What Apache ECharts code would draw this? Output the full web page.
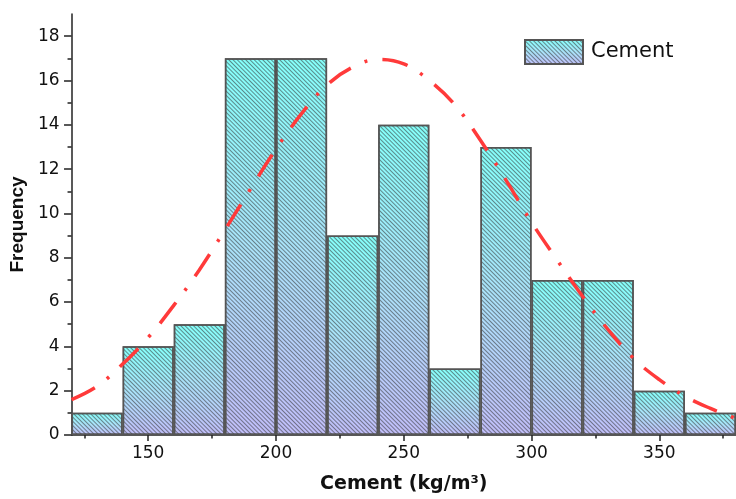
<!DOCTYPE html>
<html>
<head>
<meta charset="utf-8">
<script src="https://cdn.jsdelivr.net/npm/echarts@6/dist/echarts.min.js"></script>
<style>
  html, body { margin: 0; padding: 0; background: #fff; }
  #chart { width: 736px; height: 499px; }
</style>
</head>
<body>
<div id="chart"></div>
<script>
// Histogram bins (kg/m³): lower edge, upper edge and count
const binStart = [120, 140, 160, 180, 200, 220, 240, 260, 280, 300, 320, 340, 360];
const binEnd   = [140, 160, 180, 200, 220, 240, 260, 280, 300, 320, 340, 360, 380];
const counts   = [1, 4, 5, 17, 17, 9, 14, 3, 13, 7, 7, 2, 1];

// Fitted normal curve, sampled along the cement axis
const curveX = [120, 130, 140, 150, 160, 170, 180, 190, 200, 210, 220, 230, 240,
                250, 260, 270, 280, 290, 300, 310, 320, 330, 340, 350, 360, 370, 380];
const curveY = [1.6, 2.2, 3.2, 4.4, 5.85, 7.45, 9.25, 11.1, 12.9, 14.5, 15.8, 16.6, 16.95,
                16.75, 16.0, 14.9, 13.3, 11.5, 9.6, 7.9, 6.25, 4.75, 3.45, 2.5, 1.75, 1.2, 0.75];

// Axis ticks
const xMajor = [150, 200, 250, 300, 350];
const xMinor = [125, 175, 225, 275, 325, 375];
const yMajor = [0, 2, 4, 6, 8, 10, 12, 14, 16, 18];
const yMinor = [1, 3, 5, 7, 9, 11, 13, 15, 17];

const barData = binStart.map((s, i) => [(s + binEnd[i]) / 2, counts[i]]);
const curveData = curveX.map((x, i) => [x, curveY[i]]);

const chart = echarts.init(document.getElementById('chart'), null, { renderer: 'canvas' });

const labelFont = { fontFamily: 'DejaVu Sans', fontSize: 17, color: '#111' };
const axisLineStyle = { color: '#222', width: 1.5 };

const barFill = new echarts.graphic.LinearGradient(0, 0, 0, 1, [
  { offset: 0, color: '#84fffa' },
  { offset: 0.5, color: '#a9e2f8' },
  { offset: 1, color: '#c0bdf8' }
]);

chart.setOption({
  animation: false,
  backgroundColor: '#fff',
  grid: { left: 69, top: 14, right: -6, bottom: 62, containLabel: false },
  legend: {
    data: ['Cement'],
    left: 524,
    top: 39,
    padding: 0,
    icon: 'rect',
    itemWidth: 58,
    itemHeight: 24,
    itemGap: 10,
    textStyle: { fontFamily: 'DejaVu Sans', fontSize: 21, color: '#111', padding: [0, 0, 0, 3] }
  },
  xAxis: [
    {
      type: 'value', min: 120, max: 380, position: 'bottom',
      name: 'Cement (kg/m³)', nameLocation: 'middle', nameGap: 40,
      nameTextStyle: { fontFamily: 'DejaVu Sans', fontWeight: 'bold', fontSize: 19, color: '#111' },
      axisLine: { show: true, lineStyle: axisLineStyle },
      axisTick: { show: true, inside: false, length: 6, customValues: xMajor, lineStyle: axisLineStyle },
      axisLabel: { show: true, margin: 10, customValues: xMajor, ...labelFont },
      splitLine: { show: false }
    },
    {
      type: 'value', min: 120, max: 380, position: 'bottom',
      axisLine: { show: false },
      axisTick: { show: true, inside: false, length: 3.5, customValues: xMinor, lineStyle: axisLineStyle },
      axisLabel: { show: false },
      splitLine: { show: false }
    }
  ],
  yAxis: [
    {
      type: 'value', min: 0, max: 19, position: 'left',
      name: 'Frequency', nameLocation: 'middle', nameGap: 44, nameRotate: 90,
      nameTextStyle: { fontFamily: 'Liberation Sans', fontWeight: 'bold', fontSize: 19, color: '#111' },
      axisLine: { show: true, lineStyle: axisLineStyle },
      axisTick: { show: true, inside: false, length: 7.5, customValues: yMajor, lineStyle: axisLineStyle },
      axisLabel: { show: true, margin: 12, customValues: yMajor, ...labelFont },
      splitLine: { show: false }
    },
    {
      type: 'value', min: 0, max: 19, position: 'left',
      axisLine: { show: false },
      axisTick: { show: true, inside: false, length: 4, customValues: yMinor, lineStyle: axisLineStyle },
      axisLabel: { show: false },
      splitLine: { show: false }
    }
  ],
  series: [
    {
      name: 'Cement',
      type: 'bar',
      xAxisIndex: 0,
      yAxisIndex: 0,
      barWidth: '100%',
      data: barData,
      itemStyle: {
        color: barFill,
        borderColor: '#555',
        borderWidth: 1.5,
        decal: {
          symbol: 'rect',
          symbolSize: 1,
          dashArrayX: [1, 0],
          dashArrayY: [1, 2],
          rotation: Math.PI / 4,
          color: 'rgba(50,50,50,0.55)'
        }
      },
      emphasis: { disabled: true },
      z: 2
    },
    {
      name: 'Normal fit',
      type: 'line',
      xAxisIndex: 0,
      yAxisIndex: 0,
      data: curveData,
      smooth: 0.4,
      symbol: 'none',
      lineStyle: { color: '#ff3a3a', width: 3.5, type: [26, 15, 3, 15], cap: 'butt' },
      emphasis: { disabled: true },
      z: 3
    }
  ]
});
</script>
</body>
</html>
